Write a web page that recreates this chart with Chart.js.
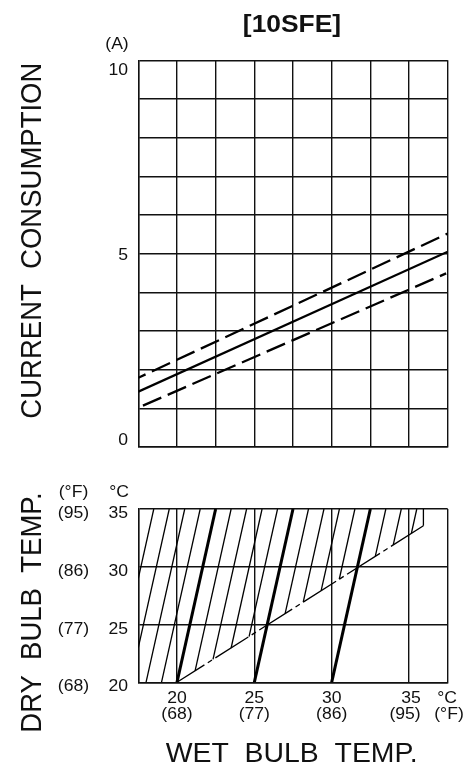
<!DOCTYPE html>
<html>
<head>
<meta charset="utf-8">
<script src="https://cdn.jsdelivr.net/npm/chart.js@4"></script>
<style>
  html, body { margin: 0; padding: 0; background: #fff; }
  #wrap { position: relative; width: 468px; height: 765px; }
  canvas { position: absolute; left: 0; top: 0; }
</style>
</head>
<body>
<div id="wrap">
  <canvas id="current" width="468" height="765"></canvas>
  <canvas id="range" width="468" height="765"></canvas>
</div>
<script>
// ---- current consumption vs wet bulb temperature ----
const wetBulbEnds = [17.5, 37.5];          // °C, ends of the rated line
const currentRated = [1.43, 5.05];         // A
const currentUpper = [1.79, 5.52];         // A, upper limit
const lowerEnds = [17.8, 37.4];            // °C
const currentLower = [1.07, 4.49];         // A, lower limit
const currentTicks = [0, 5, 10];

// ---- operating range: dry bulb vs wet bulb ----
const wetTicksC = [20, 25, 30, 35];
const wetTicksF = ['(68)', '(77)', '(86)', '(95)'];
const dryTicksC = [20, 25, 30, 35];
const dryTicksF = ['(68)', '(77)', '(86)', '(95)'];

// main lines (bottom at 20 °C DB, top at 35 °C DB)
const mainBottomX = [20, 25, 30];
const mainTopX = [22.5, 27.5, 32.5];

// hatching lines: upper ends on 35 °C DB, lower ends on frame / boundary
const hatchTopX = [18.5, 19.5, 20.5, 21.5, 23.5, 24.5, 25.5, 26.5, 28.5, 29.5, 30.5, 31.5, 33.5, 34.5, 35.5];
const hatchLowX = [17.5, 17.5, 18, 19, 21.17, 22.33, 23.5, 24.66, 26.99, 28.16, 29.32, 30.49, 32.82, 33.98, 35.15];
const hatchLowY = [29, 23, 20, 20, 20.99, 21.98, 22.97, 23.96, 25.95, 26.94, 27.93, 28.92, 30.9, 31.89, 32.88];

// limit boundary of the range
const boundaryX = [20, 35.93];
const boundaryY = [20, 33.55];
const edgeX = [35.93, 35.93];
const edgeY = [33.55, 35];

const INK = '#111';
const FONT = '"Liberation Sans", Arial, Helvetica, sans-serif';
const STRETCH = 1.1;

function pts(xs, ys) { return xs.map((x, i) => ({ x: x, y: ys[i] })); }

function seg(data, width, dash, offset) {
  return {
    data: data, showLine: true, pointRadius: 0, borderColor: '#000',
    borderWidth: width, borderDash: dash || [], borderDashOffset: offset || 0,
    fill: false, tension: 0, borderCapStyle: 'butt'
  };
}

// text with a slight horizontal stretch; opts.fit sets the run length
function txt(ctx, s, x, y, size, align, opts) {
  opts = opts || {};
  ctx.save();
  ctx.translate(x, y);
  ctx.font = (opts.bold ? 'bold ' : '') + size + 'px ' + FONT;
  if (opts.rot) {
    ctx.scale(STRETCH, 1);
    ctx.rotate(opts.rot);
    if (opts.fit) { const w = ctx.measureText(s).width; ctx.scale(opts.fit / w, 1); }
  } else {
    let sx = STRETCH;
    if (opts.fit) sx = opts.fit / ctx.measureText(s).width;
    ctx.scale(sx, 1);
  }
  ctx.fillStyle = INK;
  ctx.textAlign = align;
  ctx.textBaseline = 'alphabetic';
  ctx.fillText(s, 0, 0);
  ctx.restore();
}

function fixedTicks(values) {
  return function (scale) { scale.ticks = values.map(v => ({ value: v })); };
}

function gridAxis(min, max, tickValues) {
  return {
    type: 'linear', min: min, max: max,
    afterBuildTicks: fixedTicks(tickValues),
    ticks: { display: false },
    grid: { color: INK, lineWidth: 1.4, drawTicks: false },
    border: { display: true, color: INK, width: 1.4 }
  };
}

const currentLabels = {
  id: 'currentLabels',
  afterDraw(chart) {
    const ctx = chart.ctx, y = chart.scales.y, a = chart.chartArea;
    const cx = (a.left + a.right) / 2;
    txt(ctx, '[10SFE]', cx - 1, 32, 24, 'center', { bold: true });
    txt(ctx, '(A)', 117, 49, 16, 'center');
    currentTicks.forEach(v => {
      let p = y.getPixelForValue(v) + 6;
      p = Math.min(Math.max(p, a.top + 15), a.bottom - 2);
      txt(ctx, String(v), 128, p, 16, 'right');
    });
    txt(ctx, 'CURRENT  CONSUMPTION', 40.5, (a.top + a.bottom) / 2 - 13, 27.5, 'center', { rot: -Math.PI / 2 });
  }
};

const rangeLabels = {
  id: 'rangeLabels',
  afterDraw(chart) {
    const ctx = chart.ctx, x = chart.scales.x, y = chart.scales.y, a = chart.chartArea;
    txt(ctx, '(°F)', 73.5, 497, 16, 'center');
    txt(ctx, '°C', 119, 497, 16, 'center');
    dryTicksC.forEach((v, i) => {
      const p = y.getPixelForValue(v) + 9;
      txt(ctx, String(v), 128, p, 16, 'right');
      txt(ctx, dryTicksF[i], 73.5, p, 16, 'center');
    });
    wetTicksC.forEach((v, i) => {
      const p = x.getPixelForValue(v);
      const last = i === wetTicksC.length - 1;
      txt(ctx, String(v), p + (last ? 2 : 0), a.bottom + 21, 16, 'center');
      txt(ctx, wetTicksF[i], p - (last ? 4 : 0), a.bottom + 37, 16, 'center');
    });
    txt(ctx, '°C', 447, a.bottom + 21, 16, 'center');
    txt(ctx, '(°F)', 449, a.bottom + 37, 16, 'center');
    txt(ctx, 'DRY  BULB  TEMP.', 40.5, 612.5, 27.5, 'center', { rot: -Math.PI / 2 });
    txt(ctx, 'WET  BULB  TEMP.', 291.7, 761.5, 27.5, 'center', { fit: 252 });
  }
};

const baseOptions = {
  responsive: false, animation: false, events: [],
  plugins: { legend: { display: false }, tooltip: { enabled: false }, title: { display: false } }
};

// current consumption chart
new Chart(document.getElementById('current'), {
  type: 'scatter',
  data: {
    datasets: [
      seg(pts(wetBulbEnds, currentUpper), 2.3, [20, 7], 12),
      seg(pts(wetBulbEnds, currentRated), 2.3),
      seg(pts(lowerEnds, currentLower), 2.3, [20, 7], 0)
    ]
  },
  options: Object.assign({}, baseOptions, {
    layout: { padding: { left: 138.3, right: 20.3, top: 60.3, bottom: 318 } },
    scales: {
      x: gridAxis(17.5, 37.5, [17.5, 20, 22.5, 25, 27.5, 30, 32.5, 35, 37.5]),
      y: gridAxis(0, 10, [0, 1, 2, 3, 4, 5, 6, 7, 8, 9, 10])
    }
  }),
  plugins: [currentLabels]
});

// operating range chart
const rangeSets = [];
hatchTopX.forEach((tx, i) => {
  rangeSets.push(seg([{ x: hatchLowX[i], y: hatchLowY[i] }, { x: tx, y: 35 }], 1.3));
});
mainBottomX.forEach((bx, i) => {
  rangeSets.push(seg([{ x: bx, y: 20 }, { x: mainTopX[i], y: 35 }], 3));
});
rangeSets.push(seg(pts(boundaryX, boundaryY), 1.3, [39, 4, 5, 4], 6.5));
rangeSets.push(seg(pts(edgeX, edgeY), 1.3));

new Chart(document.getElementById('range'), {
  type: 'scatter',
  data: { datasets: rangeSets },
  options: Object.assign({}, baseOptions, {
    layout: { padding: { left: 138.3, right: 20.3, top: 509, bottom: 82.7 } },
    scales: {
      x: gridAxis(17.5, 37.5, [17.5, 20, 25, 30, 35, 37.5]),
      y: gridAxis(20, 35, [20, 25, 30, 35])
    }
  }),
  plugins: [rangeLabels]
});
</script>
</body>
</html>
